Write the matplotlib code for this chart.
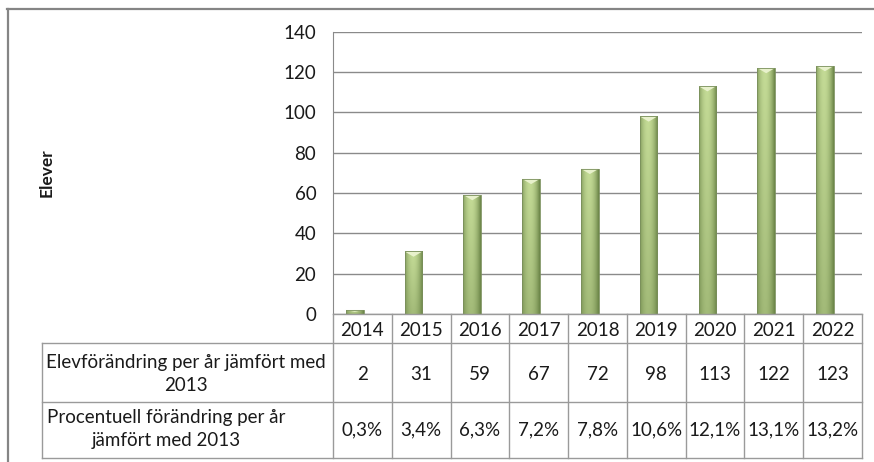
import numpy as np
import matplotlib.pyplot as plt
from matplotlib.lines import Line2D
from matplotlib.patches import Polygon

# --- data ---
years = ['2014', '2015', '2016', '2017', '2018', '2019', '2020', '2021', '2022']
elever = [2, 31, 59, 67, 72, 98, 113, 122, 123]
procent = ['0,3%', '3,4%', '6,3%', '7,2%', '7,8%', '10,6%', '12,1%', '13,1%', '13,2%']
row_labels = ['Elevförändring per år jämfört med\n2013',
              'Procentuell förändring per år\njämfört med 2013']
y_label = 'Elever'
y_ticks = [0, 20, 40, 60, 80, 100, 120, 140]

W, H = 874, 462
FONT = ['Lato', 'DejaVu Sans']
FS = 13.5
TXT = '#1a1a1a'
GRID = '#8a8a8a'
BORDER = '#9a9a9a'

plt.rcParams['font.family'] = FONT


def fx(px):
    return px / W


def fy(py):
    return 1 - py / H


fig = plt.figure(figsize=(W / 100, H / 100), dpi=100)

# --- chart area ---
plot_l, plot_r, plot_t, plot_b = 333, 862, 31.7, 314
ax = fig.add_axes([fx(plot_l), fy(plot_b), (plot_r - plot_l) / W, (plot_b - plot_t) / H])
ax.set_xlim(0, len(years))
ax.set_ylim(0, 140)
ax.set_yticks(y_ticks)
ax.set_xticks([])
ax.tick_params(axis='y', length=0, pad=12, labelsize=FS, labelcolor=TXT)
for s in ['top', 'right', 'bottom']:
    ax.spines[s].set_visible(False)
ax.spines['left'].set_color(GRID)
ax.yaxis.grid(True, color=GRID, linewidth=1.0)
ax.set_axisbelow(True)

# bar gradient (light centre, dark edges, darker toward the base)
light = np.array([0.77, 0.86, 0.59])
dark = np.array([0.42, 0.52, 0.28])
xs = np.linspace(0, 1, 40)
hprof = 1 - np.clip(np.abs(xs - 0.45) / 0.55, 0, 1) ** 2.0
ys = np.linspace(0, 1, 120)[:, None]
vprof = 0.62 + 0.38 * ys  # bottom -> top
mix = (hprof[None, :] * vprof)[..., None]
grad = dark + (light - dark) * mix

x_pos = np.arange(len(years)) + 0.5 - 0.13
bw = 0.30
bars = ax.bar(x_pos, elever, width=bw, color='none', edgecolor='none', zorder=3)
for b, v in zip(bars, elever):
    x0 = b.get_x()
    im = ax.imshow(grad, extent=[x0, x0 + bw, 0, v], origin='lower',
                   aspect='auto', zorder=3, interpolation='bilinear')
    im.set_clip_path(b)
    # bevel highlight at the top
    d = min(2.6, v * 0.45)
    tri = Polygon([[x0, v], [x0 + bw, v], [x0 + bw / 2, v - d]], closed=True,
                  facecolor='#e8f1cc', edgecolor='none', zorder=4)
    ax.add_patch(tri)
    # soft outline
    ax.plot([x0, x0, x0 + bw, x0 + bw], [0, v, v, 0], color='#7a8f5c',
            linewidth=0.6, zorder=4)
ax.set_xlim(0, len(years))

fig.text(fx(47), fy(173), y_label, rotation=90, ha='center', va='center',
         fontsize=12.5, fontweight='bold', color=TXT)

# --- data table ---
tab_l, tab_t, tab_b = 42, 314, 458
tab = fig.add_axes([fx(tab_l), fy(tab_b), (plot_r - tab_l) / W, (tab_b - tab_t) / H])
col_w = (plot_r - plot_l) / len(years)
lab_w = (plot_l - tab_l) / col_w
n = len(years)
tab.set_xlim(-lab_w, n)
tab.set_ylim(tab_b - tab_t, 0)
tab.axis('off')

r1, r2, r3 = 29, 88, tab_b - tab_t
lkw = dict(color=BORDER, linewidth=1.0, clip_on=False)
tab.plot([0, n], [0, 0], **lkw)
tab.plot([-lab_w, n], [r1, r1], **lkw)
tab.plot([-lab_w, n], [r2, r2], **lkw)
tab.plot([-lab_w, n], [r3, r3], **lkw)
tab.plot([-lab_w, -lab_w], [r1, r3], **lkw)
for i in range(n + 1):
    tab.plot([i, i], [0, r3], **lkw)

for i in range(n):
    tab.text(i + 0.5, 17, years[i], ha='center', va='center', fontsize=FS, color=TXT)
    tab.text(i + 0.5, 61, str(elever[i]), ha='center', va='center', fontsize=FS, color=TXT)
    tab.text(i + 0.5, 116, procent[i], ha='center', va='center', fontsize=FS, color=TXT)

tab.text(-lab_w + (186 - tab_l) / col_w, 60, row_labels[0], ha='center', va='center',
         multialignment='center', fontsize=FS, color=TXT, linespacing=1.4)
tab.text(-lab_w + (166 - tab_l) / col_w, 115, row_labels[1], ha='center', va='center',
         multialignment='center', fontsize=FS, color=TXT, linespacing=1.4)

# outer chart frame
fig.add_artist(Line2D([fx(7), 1], [fy(9), fy(9)], color='#858585', linewidth=1.6))
fig.add_artist(Line2D([fx(7.5), fx(7.5)], [fy(9), 0], color='#858585', linewidth=1.6))

fig.savefig('out.png', dpi=100)
